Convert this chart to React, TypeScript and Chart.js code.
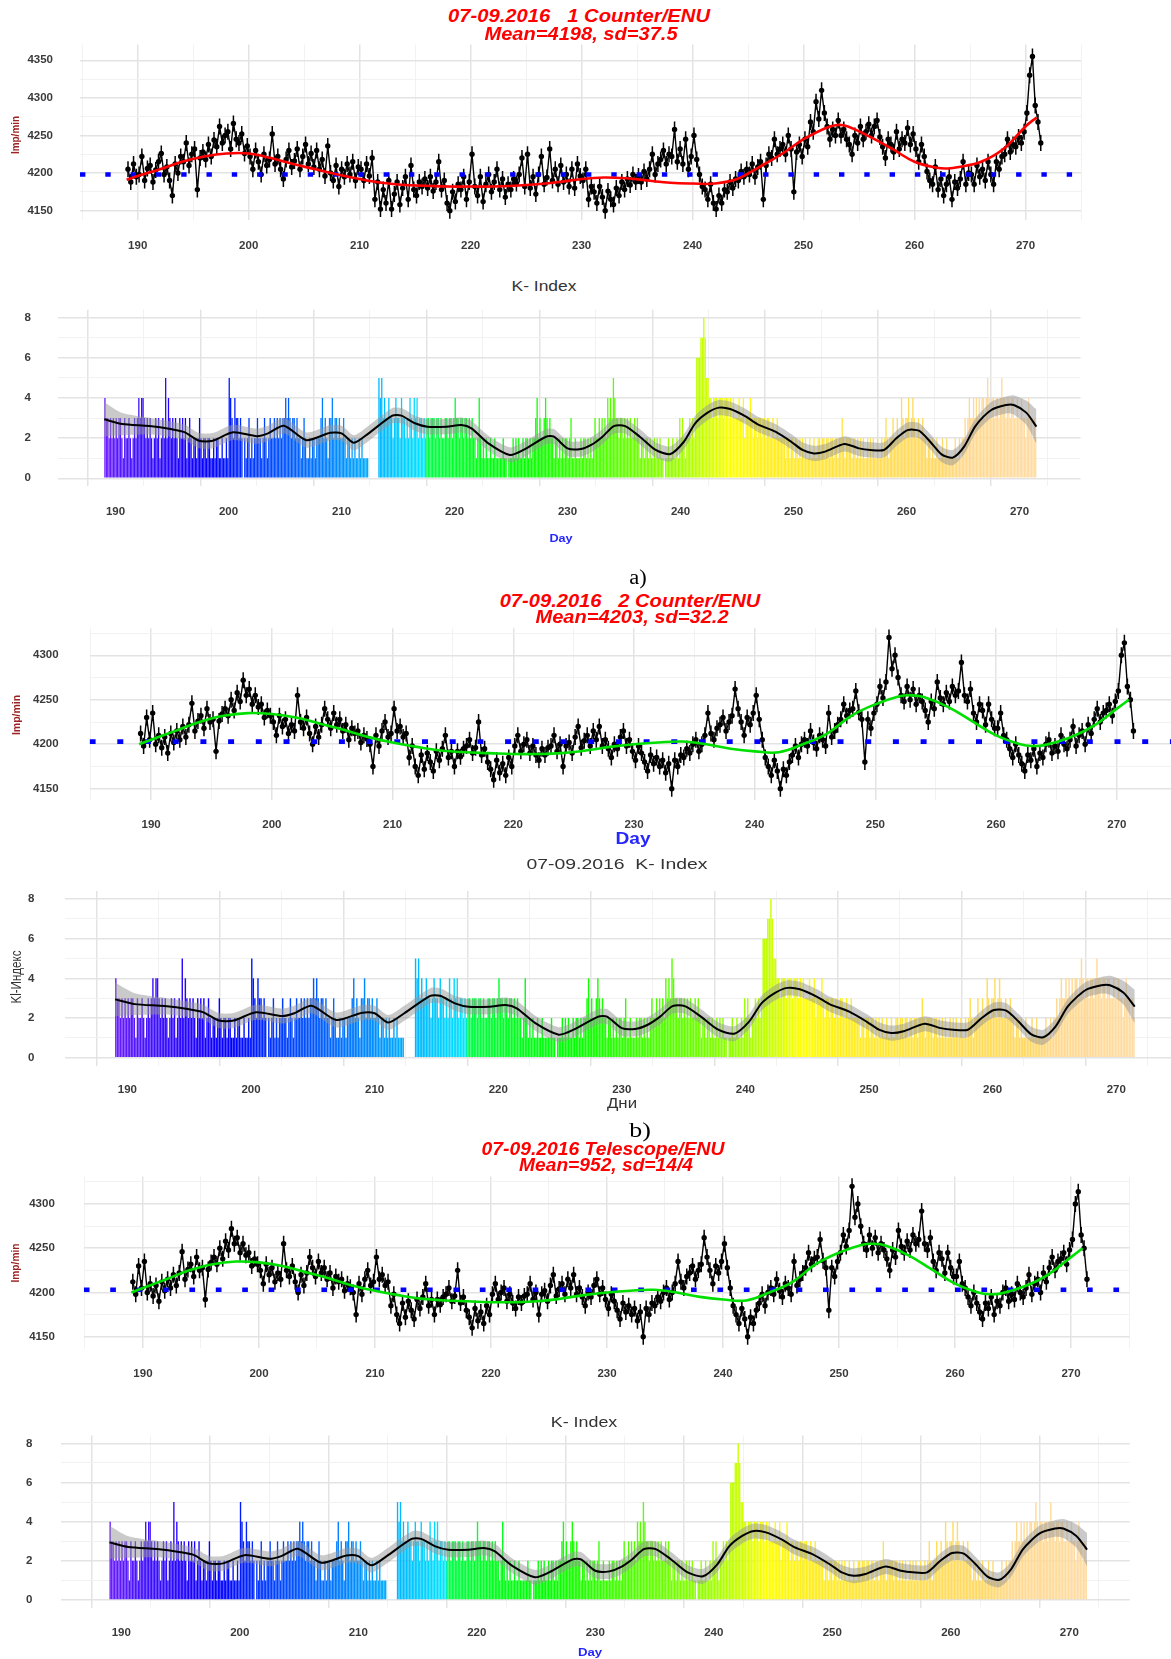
import { useEffect, useLayoutEffect, useRef, useState } from 'react';
import { Chart, registerables } from 'chart.js';
Chart.register(...registerables);

// ---------------- data ----------------
const FIRST_DAY = 189;
const COUNT_PER_DAY = 4;
const K_PER_DAY = 8;

const xTicks = [185, 190, 195, 200, 205, 210, 215, 220, 225, 230, 235, 240, 245, 250, 255, 260, 265, 270, 275];
const countTicksA = [4150, 4175, 4200, 4225, 4250, 4275, 4300, 4325, 4350];
const countTicksB = [4150, 4175, 4200, 4225, 4250, 4275, 4300, 4325];
const kTicks = [0, 1, 2, 3, 4, 5, 6, 7, 8];

const mean1 = 4198;
const mean2 = 4203;

// counter 1, imp/min, 4 samples per day from day 189
const count1 = [
  [4205, 4188, 4212, 4195], [4198, 4222, 4190, 4206], [4210, 4188, 4204, 4215], [4226, 4198, 4208, 4190],
  [4170, 4212, 4200, 4222], [4215, 4240, 4210, 4225], [4232, 4178, 4220, 4228], [4218, 4238, 4222, 4244],
  [4235, 4262, 4240, 4250], [4255, 4232, 4266, 4245], [4240, 4252, 4226, 4236], [4222, 4205, 4230, 4215],
  [4198, 4225, 4210, 4218], [4252, 4212, 4222, 4205], [4192, 4218, 4230, 4208], [4216, 4232, 4205, 4222],
  [4238, 4212, 4226, 4208], [4230, 4205, 4218, 4196], [4236, 4200, 4190, 4210], [4182, 4205, 4195, 4212],
  [4198, 4215, 4190, 4208], [4205, 4190, 4212, 4196], [4220, 4165, 4188, 4152], [4178, 4160, 4190, 4152],
  [4172, 4188, 4158, 4180], [4195, 4165, 4210, 4178], [4170, 4188, 4182, 4192], [4180, 4195, 4176, 4188],
  [4215, 4178, 4190, 4160], [4150, 4175, 4162, 4185], [4178, 4195, 4165, 4188], [4225, 4182, 4170, 4195],
  [4162, 4185, 4198, 4175], [4188, 4205, 4178, 4192], [4168, 4185, 4178, 4192], [4186, 4198, 4220, 4182],
  [4225, 4180, 4195, 4172], [4198, 4222, 4185, 4194], [4232, 4190, 4205, 4185], [4210, 4188, 4198, 4182],
  [4205, 4180, 4212, 4196], [4190, 4205, 4165, 4182], [4175, 4160, 4182, 4168], [4150, 4176, 4165, 4158],
  [4180, 4170, 4188, 4178], [4192, 4184, 4198, 4188], [4196, 4188, 4202, 4192], [4205, 4225, 4198, 4212],
  [4218, 4230, 4212, 4225], [4222, 4258, 4215, 4232], [4212, 4245, 4205, 4222], [4250, 4218, 4198, 4182],
  [4178, 4165, 4185, 4160], [4152, 4170, 4160, 4178], [4175, 4188, 4180, 4192], [4190, 4202, 4195, 4205],
  [4198, 4212, 4195, 4208], [4215, 4165, 4210, 4225], [4220, 4245, 4225, 4232], [4238, 4225, 4250, 4232],
  [4175, 4228, 4238, 4222], [4245, 4235, 4268, 4255], [4295, 4272, 4310, 4280], [4262, 4245, 4258, 4250],
  [4270, 4250, 4258, 4245], [4238, 4225, 4250, 4240], [4262, 4245, 4255, 4265], [4250, 4262, 4270, 4248],
  [4235, 4220, 4245, 4238], [4228, 4255, 4232, 4245], [4240, 4260, 4238, 4252], [4232, 4215, 4238, 4222],
  [4202, 4190, 4185, 4208], [4178, 4192, 4170, 4185], [4195, 4165, 4188, 4180], [4192, 4215, 4185, 4200],
  [4198, 4185, 4210, 4195], [4205, 4190, 4215, 4198], [4185, 4215, 4205, 4222], [4225, 4245, 4228, 4238],
  [4235, 4248, 4240, 4255], [4280, 4330, 4355, 4290], [4268, 4240],
];

// counter 2 (also telescope panel), imp/min, 4 samples per day from day 189
const count2 = [
  [4212, 4198, 4230, 4205], [4235, 4200, 4210, 4196], [4208, 4190, 4212, 4202], [4215, 4205, 4220, 4208],
  [4222, 4246, 4215, 4226], [4232, 4218, 4240, 4225], [4228, 4192, 4226, 4234], [4240, 4232, 4250, 4238],
  [4258, 4248, 4272, 4255], [4262, 4245, 4255, 4242], [4245, 4230, 4238, 4232], [4225, 4210, 4232, 4220],
  [4228, 4212, 4222, 4215], [4255, 4225, 4218, 4230], [4212, 4200, 4220, 4208], [4222, 4240, 4228, 4218],
  [4235, 4222, 4228, 4215], [4222, 4205, 4218, 4212], [4215, 4202, 4210, 4206], [4200, 4175, 4210, 4198],
  [4215, 4225, 4208, 4212], [4240, 4215, 4220, 4208], [4212, 4185, 4198, 4175], [4165, 4188, 4172, 4190],
  [4180, 4170, 4192, 4182], [4195, 4210, 4185, 4192], [4175, 4192, 4186, 4195], [4198, 4205, 4190, 4196],
  [4225, 4188, 4195, 4180], [4172, 4160, 4182, 4168], [4178, 4165, 4185, 4175], [4198, 4210, 4192, 4200],
  [4205, 4190, 4198, 4188], [4182, 4195, 4188, 4196], [4198, 4210, 4192, 4200], [4175, 4198, 4202, 4190],
  [4208, 4220, 4196, 4204], [4210, 4198, 4215, 4205], [4220, 4198, 4205, 4195], [4185, 4200, 4195, 4208],
  [4215, 4198, 4205, 4192], [4182, 4198, 4190, 4180], [4170, 4188, 4178, 4185], [4175, 4182, 4168, 4178],
  [4150, 4182, 4175, 4188], [4185, 4195, 4190, 4200], [4205, 4192, 4200, 4210], [4235, 4212, 4205, 4218],
  [4222, 4230, 4215, 4225], [4232, 4262, 4240, 4225], [4210, 4230, 4222, 4235], [4255, 4228, 4205, 4185],
  [4175, 4165, 4182, 4170], [4150, 4172, 4165, 4180], [4188, 4198, 4185, 4200], [4205, 4198, 4215, 4202],
  [4195, 4210, 4205, 4198], [4235, 4208, 4215, 4222], [4228, 4245, 4232, 4238], [4240, 4260, 4236, 4228],
  [4180, 4228, 4218, 4235], [4245, 4265, 4252, 4270], [4320, 4285, 4300, 4275], [4255, 4248, 4265, 4250],
  [4262, 4245, 4255, 4248], [4238, 4225, 4248, 4240], [4270, 4252, 4245, 4258], [4248, 4265, 4255, 4260],
  [4292, 4255, 4248, 4262], [4235, 4225, 4245, 4238], [4222, 4245, 4228, 4218], [4218, 4235, 4210, 4205],
  [4195, 4185, 4200, 4188], [4178, 4170, 4188, 4182], [4195, 4175, 4190, 4185], [4200, 4205, 4190, 4198],
  [4192, 4210, 4200, 4195], [4205, 4220, 4198, 4210], [4215, 4200, 4222, 4212], [4228, 4240, 4225, 4235],
  [4238, 4245, 4232, 4248], [4260, 4300, 4314, 4265], [4250, 4215],
];

const smoothDays = [189, 190, 192, 194, 196, 198, 200, 202, 204, 206, 208, 210, 212, 214, 216, 218, 220, 222, 224, 226, 228, 230, 232, 234, 236, 238, 240, 242, 244, 246, 248, 250, 252, 253, 254, 256, 258, 260, 262, 263, 264, 266, 268, 270, 271];
const smooth1 = [4191, 4196, 4205, 4215, 4222, 4226, 4226, 4220, 4212, 4205, 4198, 4192, 4187, 4184, 4183, 4182, 4182, 4182, 4183, 4185, 4188, 4192, 4194, 4193, 4190, 4187, 4186, 4186, 4192, 4208, 4225, 4245, 4260, 4264, 4262, 4248, 4232, 4215, 4207, 4206, 4208, 4215, 4232, 4262, 4274];
const smooth2 = [4200, 4205, 4215, 4225, 4232, 4235, 4234, 4230, 4223, 4216, 4208, 4202, 4197, 4193, 4191, 4190, 4189, 4189, 4190, 4193, 4197, 4200, 4202, 4203, 4200, 4195, 4192, 4191, 4200, 4212, 4232, 4245, 4254, 4255, 4253, 4242, 4226, 4210, 4200, 4198, 4199, 4207, 4220, 4240, 4250];

// K-index, 8 three-hour values per day from day 189
const kIndex = [
  [4, 3, 3, 2, 3, 2, 3, 2], [3, 2, 3, 3, 2, 1, 3, 2], [2, 3, 2, 1, 2, 3, 2, 3], [4, 3, 4, 4, 3, 2, 3, 2],
  [3, 2, 1, 2, 3, 2, 3, 1], [2, 3, 2, 5, 2, 4, 3, 2], [3, 2, 3, 2, 1, 3, 2, 3], [2, 3, 1, 2, 3, 2, 1, 2],
  [2, 1, 2, 3, 2, 1, 2, 2], [1, 2, 2, 1, 1, 2, 1, 2], [2, 1, 1, 2, 1, 1, 2, 1], [5, 4, 3, 2, 4, 3, 3, 2],
  [3, 2, 0, 2, 1, 2, 3, 1], [2, 1, 2, 2, 3, 2, 2, 1], [2, 3, 2, 1, 2, 3, 2, 2], [3, 2, 3, 2, 3, 2, 3, 3],
  [4, 3, 4, 3, 2, 3, 3, 2], [3, 2, 2, 1, 2, 3, 2, 1], [1, 2, 1, 2, 2, 1, 2, 2], [2, 3, 4, 2, 3, 2, 1, 3],
  [3, 4, 2, 3, 3, 2, 3, 2], [2, 3, 2, 1, 2, 2, 1, 2], [1, 2, 1, 1, 2, 1, 2, 1], [1, 1, 1, 0, 0, 0, 0, 0],
  [0, 0, 5, 4, 5, 3, 4, 3], [3, 4, 3, 3, 2, 3, 4, 3], [3, 2, 4, 3, 3, 2, 3, 2], [4, 3, 2, 4, 3, 4, 2, 3],
  [3, 2, 3, 2, 3, 3, 2, 3], [3, 3, 2, 3, 3, 2, 3, 2], [2, 3, 3, 2, 3, 3, 2, 3], [4, 3, 3, 2, 3, 3, 2, 3],
  [3, 2, 3, 2, 3, 2, 2, 1], [2, 4, 2, 1, 2, 1, 2, 1], [1, 2, 1, 1, 2, 1, 1, 1], [1, 1, 2, 1, 1, 0, 1, 1],
  [1, 2, 1, 2, 1, 2, 1, 1], [2, 1, 2, 2, 1, 2, 1, 2], [2, 3, 4, 2, 3, 2, 2, 3], [4, 3, 2, 3, 2, 2, 1, 2],
  [2, 1, 2, 1, 2, 1, 2, 2], [1, 2, 3, 1, 1, 2, 1, 1], [1, 2, 1, 2, 2, 1, 2, 1], [2, 1, 2, 3, 2, 2, 3, 2],
  [3, 2, 3, 2, 4, 3, 4, 3], [5, 4, 3, 3, 2, 3, 3, 2], [3, 2, 3, 2, 3, 2, 2, 3], [2, 3, 2, 1, 2, 2, 1, 2],
  [2, 1, 2, 1, 1, 2, 1, 2], [1, 2, 1, 1, 0, 1, 1, 2], [1, 1, 2, 1, 1, 2, 1, 3], [2, 3, 2, 1, 2, 2, 3, 2],
  [3, 2, 3, 6, 6, 6, 7, 7], [8, 7, 5, 5, 4, 4, 3, 4], [4, 4, 3, 4, 4, 4, 3, 4], [4, 4, 3, 4, 3, 4, 3, 3],
  [3, 4, 3, 3, 4, 2, 3, 3], [3, 4, 3, 2, 3, 3, 2, 3], [3, 2, 3, 3, 2, 3, 3, 2], [2, 3, 2, 2, 3, 2, 2, 2],
  [2, 2, 1, 2, 2, 1, 2, 2], [1, 2, 2, 1, 2, 1, 2, 1], [2, 1, 1, 2, 1, 1, 2, 1], [1, 2, 2, 1, 2, 2, 1, 2],
  [2, 1, 2, 2, 1, 2, 2, 1], [2, 2, 3, 2, 1, 2, 2, 2], [2, 1, 2, 2, 1, 2, 1, 2], [1, 2, 1, 1, 2, 1, 2, 1],
  [2, 1, 1, 2, 1, 1, 2, 1], [2, 3, 2, 1, 2, 2, 3, 2], [2, 3, 2, 2, 4, 3, 2, 3], [3, 4, 2, 3, 4, 3, 2, 2],
  [3, 2, 2, 3, 2, 2, 1, 2], [2, 1, 2, 1, 1, 2, 1, 1], [1, 2, 1, 1, 2, 1, 1, 1], [1, 1, 2, 1, 1, 2, 1, 2],
  [2, 3, 2, 3, 4, 3, 3, 4], [3, 4, 3, 4, 3, 4, 4, 3], [4, 5, 4, 3, 4, 4, 3, 4], [4, 3, 4, 5, 4, 4, 3, 4],
  [4, 3, 4, 4, 3, 3, 4, 3], [3, 4, 3, 3, 2, 3, 4, 3], [3, 2, 3, 2],
];

const kSmoothDays = [189, 190.6, 193, 195, 196.1, 197.4, 198.6, 200.4, 202.5, 203.5, 204.9, 206.9, 209, 210, 211.1, 212.4, 214.5, 215.3, 216.5, 217.6, 219.3, 220.6, 221.5, 223, 224.9, 226.1, 228.1, 228.8, 230, 231.2, 232.1, 233.1, 234.1, 235.1, 236.4, 237.8, 239.1, 240.3, 241.3, 242.4, 243.4, 244.4, 245.8, 246.8, 248.4, 249.8, 250.8, 251.8, 252.8, 254.5, 255.8, 256.8, 258, 259.1, 260.1, 261.1, 262.1, 263.1, 264.1, 265.1, 266.1, 267.5, 268.8, 269.5, 270.6, 271.5];
const kSmooth = [2.94, 2.7, 2.6, 2.44, 2.3, 1.87, 1.87, 2.29, 2.1, 2.24, 2.62, 1.9, 2.27, 2.24, 1.77, 2.24, 3.12, 3.12, 2.74, 2.57, 2.57, 2.65, 2.49, 1.74, 1.16, 1.41, 2.07, 2.07, 1.49, 1.46, 1.66, 2.07, 2.6, 2.6, 2.07, 1.41, 1.21, 1.82, 2.74, 3.27, 3.52, 3.45, 3.07, 2.7, 2.32, 1.82, 1.41, 1.24, 1.33, 1.71, 1.49, 1.41, 1.41, 1.99, 2.4, 2.37, 1.82, 1.19, 1.03, 1.58, 2.6, 3.4, 3.65, 3.65, 3.27, 2.57];
const kSmoothSe = [0.85, 0.55, 0.42, 0.38, 0.38, 0.38, 0.38, 0.38, 0.38, 0.38, 0.38, 0.38, 0.38, 0.38, 0.38, 0.38, 0.38, 0.38, 0.38, 0.38, 0.38, 0.38, 0.38, 0.38, 0.38, 0.38, 0.38, 0.38, 0.38, 0.38, 0.38, 0.38, 0.38, 0.38, 0.38, 0.38, 0.38, 0.38, 0.38, 0.38, 0.38, 0.38, 0.38, 0.38, 0.38, 0.38, 0.38, 0.38, 0.38, 0.38, 0.38, 0.38, 0.38, 0.38, 0.38, 0.38, 0.38, 0.38, 0.38, 0.38, 0.38, 0.4, 0.42, 0.48, 0.6, 0.85];

// ---------------- styles ----------------
const CANVAS_W = 1200;
const FONT = '"Liberation Sans", Arial, sans-serif';
const MAJOR = '#e3e3e3';
const MINOR = '#f1f1f1';
const TICK_COLOR = '#3a3a3a';

const colorStops: [number, string][] = [
  [189, '#6a1cff'], [192, '#4010ff'], [196, '#1a00ff'], [198.5, '#0000ff'], [202, '#0038ff'],
  [206, '#0060ff'], [210, '#0090ff'], [213, '#00b4ff'], [217.4, '#00e6ff'], [217.5, '#00ff48'],
  [222, '#00ff18'], [226, '#00ff00'], [232, '#44ff00'], [237, '#77ff00'], [240, '#a0ff00'],
  [242, '#c8ff00'], [244.5, '#ffff00'], [248, '#ffee1a'], [252, '#ffe63a'], [258, '#ffdd55'],
  [263, '#ffd966'], [265, '#ffd98e'], [272, '#ffdca6'],
];
function hex(c: string) { return [1, 3, 5].map((i) => parseInt(c.slice(i, i + 2), 16)); }
function kColor(x: number) {
  if (x <= colorStops[0][0]) return colorStops[0][1];
  for (let i = 1; i < colorStops.length; i++) {
    const [x1, c1] = colorStops[i];
    if (x <= x1) {
      const [x0, c0] = colorStops[i - 1];
      const t = (x - x0) / (x1 - x0);
      const a = hex(c0), b = hex(c1);
      const m = a.map((v, k) => Math.round(v + (b[k] - v) * t));
      return `rgb(${m[0]},${m[1]},${m[2]})`;
    }
  }
  return colorStops[colorStops.length - 1][1];
}

function rowsToPoints(rows: number[][], perDay: number) {
  const pts: { x: number; y: number }[] = [];
  rows.forEach((row, r) => row.forEach((v, i) => pts.push({ x: FIRST_DAY + r + (i + 0.5) / perDay, y: v })));
  return pts;
}
function pairPoints(xs: number[], ys: number[]) { return xs.map((x, i) => ({ x, y: ys[i] })); }

function countDatasets(rows: number[][], sVals: number[], sColor: string, mean: number, xMin: number, xMax: number, dash: number[], dashW: number) {
  const pts = rowsToPoints(rows, COUNT_PER_DAY);
  return [
    { type: 'line', data: pairPoints(smoothDays, sVals), borderColor: sColor, borderWidth: 2.6, pointRadius: 0, tension: 0.4, order: 0 },
    { type: 'line', data: [{ x: xMin, y: mean }, { x: xMax, y: mean }], borderColor: '#0000ff', borderWidth: dashW, borderDash: dash, borderCapStyle: 'butt', pointRadius: 0, order: 1 },
    { type: 'line', data: pts, borderColor: '#000', borderWidth: 1.4, pointRadius: 2.7, pointBackgroundColor: '#000', pointBorderWidth: 0, tension: 0, order: 2 },
    // error-bar style marks on each sample
    { type: 'line', data: pts, showLine: false, pointStyle: 'line', pointRotation: 90, pointRadius: 8, pointBorderColor: '#000', pointBorderWidth: 1.5, order: 3 },
  ];
}

function kDatasets() {
  const bars = rowsToPoints(kIndex, K_PER_DAY);
  return [
    { type: 'line', data: pairPoints(kSmoothDays, kSmooth), borderColor: '#000', borderWidth: 2, pointRadius: 0, tension: 0.25, order: 0 },
    { type: 'line', data: pairPoints(kSmoothDays, kSmooth.map((v, i) => v + kSmoothSe[i])), borderColor: 'transparent', borderWidth: 0, pointRadius: 0, tension: 0.25, fill: '+1', backgroundColor: 'rgba(150,150,150,0.5)', order: 1 },
    { type: 'line', data: pairPoints(kSmoothDays, kSmooth.map((v, i) => v - kSmoothSe[i])), borderColor: 'transparent', borderWidth: 0, pointRadius: 0, tension: 0.25, fill: false, order: 2 },
    { type: 'bar', data: bars, backgroundColor: bars.map((p) => kColor(p.x)), borderWidth: 0, barPercentage: 0.92, categoryPercentage: 1, order: 3 },
  ];
}

type Spec = {
  top: number; bottom: number; left: number; right: number;
  xMin: number; xMax: number; yMin: number; yMax: number;
  yTicks: number[]; yMajor: number; yPad: number; xPad: number;
  datasets: any[];
};

const PAD_T = 12;
const X_AXIS_H = 40;

function Panel({ spec }: { spec: Spec }) {
  const ref = useRef<HTMLCanvasElement>(null);
  const canvasTop = Math.floor(spec.top) - PAD_T;
  const padTop = spec.top - canvasTop;
  const H = Math.ceil(padTop + (spec.bottom - spec.top) + X_AXIS_H + 6);
  const padBottom = H - padTop - (spec.bottom - spec.top) - X_AXIS_H;
  useEffect(() => {
    const zeroPad = (s: any) => { s.paddingTop = 0; s.paddingBottom = 0; s.paddingLeft = 0; s.paddingRight = 0; };
    const font = { family: FONT, size: 11.5, weight: 'bold' as const };
    const chart = new Chart(ref.current!, {
      type: 'line',
      data: { datasets: spec.datasets as any },
      options: {
        animation: false,
        responsive: false,
        maintainAspectRatio: false,
        devicePixelRatio: 1,
        events: [],
        layout: { padding: { left: 0, top: padTop, bottom: padBottom, right: CANVAS_W - spec.right } },
        plugins: { legend: { display: false }, tooltip: { enabled: false }, title: { display: false } },
        scales: {
          x: {
            type: 'linear', min: spec.xMin, max: spec.xMax, offset: false,
            afterBuildTicks: (s: any) => { s.ticks = xTicks.map((v) => ({ value: v })); },
            afterFit: (s: any) => { s.height = X_AXIS_H; zeroPad(s); },
            grid: {
              drawTicks: false,
              color: (c: any) => (c.tick && c.tick.value % 10 === 0 ? MAJOR : MINOR),
              lineWidth: (c: any) => (c.tick && c.tick.value % 10 === 0 ? 1.5 : 0.9),
            },
            border: { display: false },
            ticks: { autoSkip: false, maxRotation: 0, minRotation: 0, padding: spec.xPad, color: TICK_COLOR, font, callback: (v: any) => (v % 10 === 0 ? String(v) : '') },
          },
          y: {
            type: 'linear', min: spec.yMin, max: spec.yMax,
            afterBuildTicks: (s: any) => { s.ticks = spec.yTicks.map((v) => ({ value: v })); },
            afterFit: (s: any) => { s.width = spec.left; zeroPad(s); },
            grid: {
              drawTicks: false,
              color: (c: any) => (c.tick && c.tick.value % spec.yMajor === 0 ? MAJOR : MINOR),
              lineWidth: (c: any) => (c.tick && c.tick.value % spec.yMajor === 0 ? 1.5 : 0.9),
            },
            border: { display: false },
            ticks: { autoSkip: false, padding: spec.yPad, color: TICK_COLOR, font, callback: (v: any) => (v % spec.yMajor === 0 ? String(v) : '') },
          },
        },
      } as any,
    });
    return () => chart.destroy();
  }, []);
  return (
    <canvas ref={ref} width={CANVAS_W} height={H}
      style={{ position: 'absolute', left: 0, top: canvasTop, width: CANVAS_W, height: H, display: 'block' }} />
  );
}

function Txt({ x, y, w, text, font, color, rot = 0 }: { x: number; y: number; w?: number; text: string; font: string; color: string; rot?: number }) {
  const ref = useRef<HTMLDivElement>(null);
  const [sx, setSx] = useState(1);
  useLayoutEffect(() => {
    if (w && ref.current) {
      const nat = ref.current.offsetWidth;
      if (nat > 0) setSx(w / nat);
    }
  }, [w]);
  return (
    <div ref={ref} style={{
      position: 'absolute', left: x, top: y, whiteSpace: 'pre', font, color, lineHeight: 1,
      transform: `translate(-50%,-50%) rotate(${rot}deg) scaleX(${sx})`,
    }}>{text}</div>
  );
}

const TITLE_FONT = `italic bold 18px ${FONT}`;
const RED = '#ff0000';
const YLAB_FONT = `bold 11px ${FONT}`;
const YLAB_COLOR = '#9b2323';
const KT_FONT = `15px ${FONT}`;
const KT_COLOR = '#333333';
const BLUE = '#2626ff';
const SERIF = `20px "Liberation Serif", "Times New Roman", serif`;

const specs: Spec[] = [
  { top: 44.5, bottom: 220.4, left: 80, right: 1081, xMin: 184.8, xMax: 275.0, yMin: 4137, yMax: 4371, yTicks: countTicksA, yMajor: 50, yPad: 27, xPad: 18.4,
    datasets: countDatasets(count1, smooth1, '#ff0000', mean1, 184.8, 275.0, [5.4, 19.9], 4.5) },
  { top: 309.7, bottom: 486.3, left: 57.9, right: 1080.5, xMin: 184.9, xMax: 275.4, yMin: -0.4, yMax: 8.4, yTicks: kTicks, yMajor: 2, yPad: 27, xPad: 18.6,
    datasets: kDatasets() },
  { top: 628.2, bottom: 799.8, left: 89.6, right: 1178.4, xMin: 184.9, xMax: 275.1, yMin: 4137.5, yMax: 4330.5, yTicks: countTicksB, yMajor: 50, yPad: 31, xPad: 18.6,
    datasets: countDatasets(count2, smooth2, '#00e000', mean2, 184.9, 275.1, [6, 21.7], 4.7) },
  { top: 891.1, bottom: 1065.6, left: 65, right: 1184.2, xMin: 184.95, xMax: 275.5, yMin: -0.4, yMax: 8.4, yTicks: kTicks, yMajor: 2, yPad: 30.6, xPad: 17.8,
    datasets: kDatasets() },
  { top: 1176.6, bottom: 1348.2, left: 83.8, right: 1129.6, xMin: 184.9, xMax: 275.05, yMin: 4137, yMax: 4331, yTicks: countTicksB, yMajor: 50, yPad: 29, xPad: 18.5,
    datasets: countDatasets(count2, smooth2, '#00e000', mean2, 184.9, 275.05, [5.7, 20.7], 4.5) },
  { top: 1435.5, bottom: 1607.8, left: 61.2, right: 1129.7, xMin: 184.93, xMax: 275.1, yMin: -0.4, yMax: 8.4, yTicks: kTicks, yMajor: 2, yPad: 28.7, xPad: 17.9,
    datasets: kDatasets() },
];

export default function App() {
  return (
    <div style={{ position: 'absolute', left: 0, top: 0, width: 1171, height: 1659, overflow: 'hidden', background: '#fff' }}>
      {specs.map((s, i) => <Panel key={i} spec={s} />)}

      <Txt x={579} y={16} w={262} text={'07-09.2016   1 Counter/ENU'} font={TITLE_FONT} color={RED} />
      <Txt x={580.5} y={33.5} w={193} text={'Mean=4198, sd=37.5'} font={TITLE_FONT} color={RED} />
      <Txt x={14.5} y={135} w={38} text={'Imp/min'} font={YLAB_FONT} color={YLAB_COLOR} rot={-90} />

      <Txt x={543.5} y={285} w={65} text={'K- Index'} font={KT_FONT} color={KT_COLOR} />
      <Txt x={560.6} y={537.7} w={23} text={'Day'} font={`bold 11px ${FONT}`} color={BLUE} />
      <Txt x={638} y={576.5} w={18} text={'a)'} font={SERIF} color={'#000'} />

      <Txt x={630} y={600.7} w={260.6} text={'07-09.2016   2 Counter/ENU'} font={TITLE_FONT} color={RED} />
      <Txt x={632.4} y={616.7} w={193} text={'Mean=4203, sd=32.2'} font={TITLE_FONT} color={RED} />
      <Txt x={16} y={715} w={40} text={'Imp/min'} font={YLAB_FONT} color={YLAB_COLOR} rot={-90} />
      <Txt x={633} y={839.3} w={34.7} text={'Day'} font={`bold 16px ${FONT}`} color={BLUE} />

      <Txt x={616.7} y={863} w={181} text={'07-09.2016  K- Index'} font={KT_FONT} color={KT_COLOR} />
      <Txt x={16.3} y={976.7} w={53} text={'Kl-Индекс'} font={`14px ${FONT}`} color={KT_COLOR} rot={-90} />
      <Txt x={621.5} y={1103.3} w={30} text={'Дни'} font={`14px ${FONT}`} color={KT_COLOR} />
      <Txt x={640} y={1130} w={22} text={'b)'} font={SERIF} color={'#000'} />

      <Txt x={603.2} y={1149} w={242.4} text={'07-09.2016 Telescope/ENU'} font={TITLE_FONT} color={RED} />
      <Txt x={605.5} y={1165} w={173.7} text={'Mean=952, sd=14/4'} font={TITLE_FONT} color={RED} />
      <Txt x={14.5} y={1263} w={39} text={'Imp/min'} font={YLAB_FONT} color={YLAB_COLOR} rot={-90} />

      <Txt x={584.4} y={1420.7} w={66.7} text={'K- Index'} font={KT_FONT} color={KT_COLOR} />
      <Txt x={590} y={1651.7} w={24} text={'Day'} font={`bold 11px ${FONT}`} color={BLUE} />
    </div>
  );
}
